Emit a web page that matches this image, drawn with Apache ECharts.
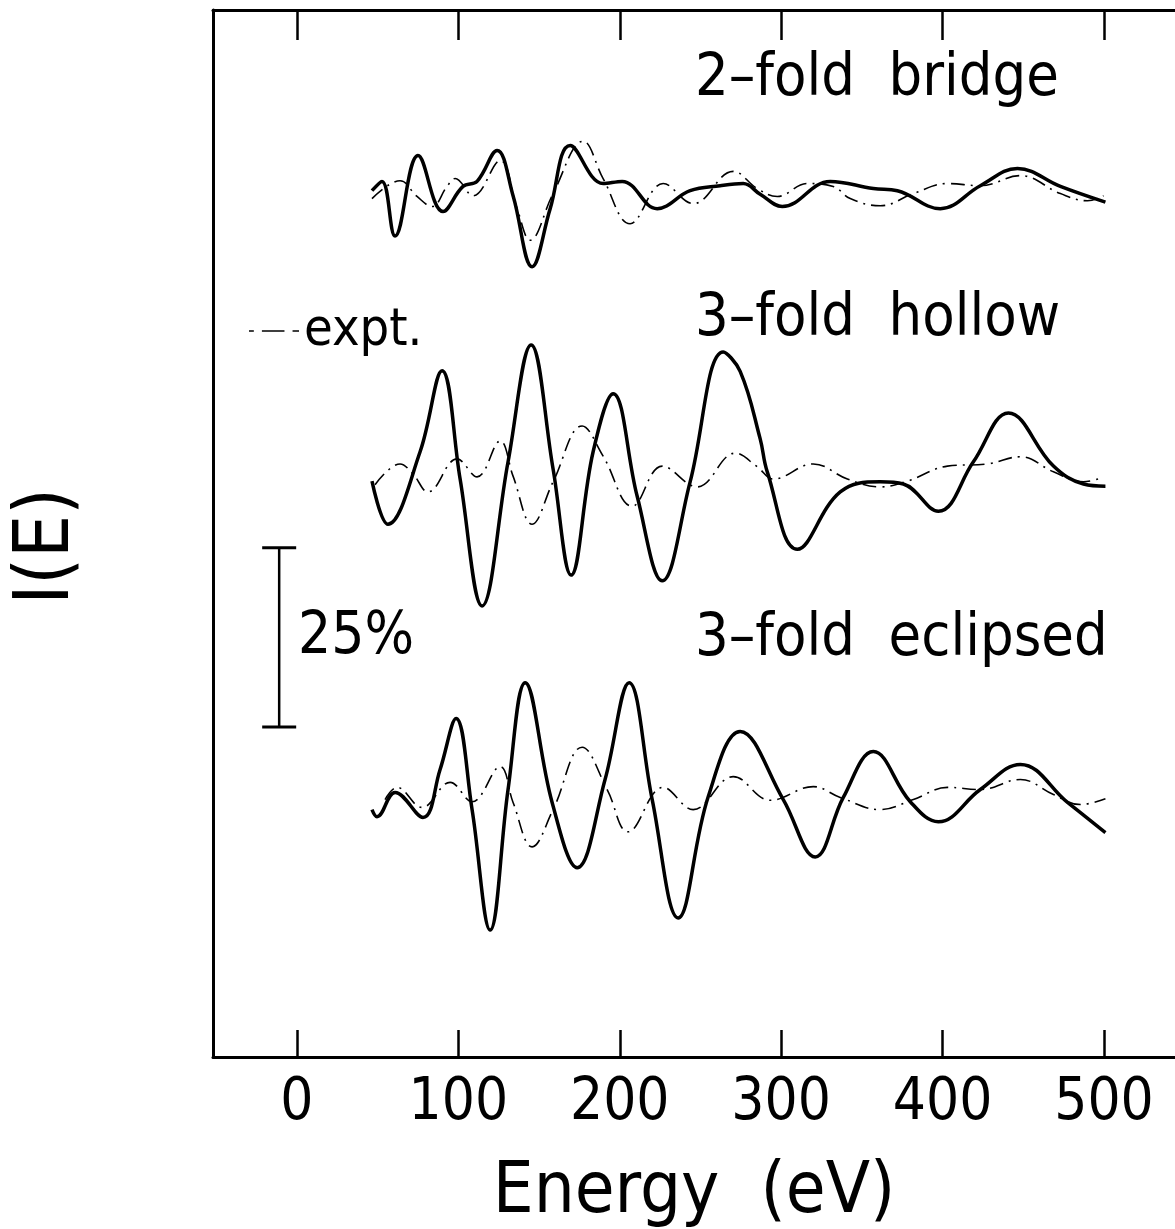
<!DOCTYPE html>
<html>
<head>
<meta charset="utf-8">
<script src="https://cdn.jsdelivr.net/npm/echarts@6/dist/echarts.min.js"></script>
<style>
  html, body { margin: 0; padding: 0; background: #fff; }
  #chart { width: 1175px; height: 1229px; }
</style>
</head>
<body>
<div id="chart"></div>
<script>
// energy (eV), intensity (%) with each pair of curves offset vertically
var bridgeTheory = [[46.5,120.8],[52.7,122.1],[60.8,114.5],[75.0,125.7],[90.5,117.9],[102.9,121.4],[111.6,122.1],[124.0,126.4],[133.9,120.1],[145.7,110.2],[156.9,118.3],[169.3,127.1],[189.7,121.8],[201.5,122.1],[223.2,118.3],[243.6,120.8],[262.2,121.5],[276.5,121.8],[287.0,120.3],[300.7,118.6],[330.4,122.1],[357.1,121.1],[372.0,120.8],[398.6,118.3],[423.4,121.5],[446.4,123.9],[473.0,121.4],[500.9,119.2]];
var bridgeExpt = [[46.5,119.7],[63.9,122.2],[74.4,120.0],[83.7,118.6],[93.0,121.4],[98.0,122.5],[109.1,120.1],[125.9,125.0],[136.4,118.3],[144.5,113.9],[158.7,120.4],[177.3,127.7],[189.7,122.5],[206.4,116.2],[226.9,121.8],[245.5,119.0],[270.3,123.5],[285.2,121.1],[297.6,120.0],[316.2,121.8],[332.3,121.4],[342.8,119.7],[361.4,118.7],[381.9,120.4],[403.0,121.8],[423.4,121.5],[448.2,122.9],[473.0,120.4],[489.8,119.4],[499.7,120.1]];
var hollowTheory = [[46.5,80.3],[56.4,74.3],[76.3,84.4],[89.9,95.7],[101.1,80.6],[114.7,62.9],[130.8,83.0],[145.1,99.3],[158.7,82.0],[169.9,67.2],[183.5,84.4],[195.9,92.5],[210.8,78.2],[226.3,66.4],[243.6,80.2],[264.1,98.3],[274.6,95.6],[287.0,86.2],[291.4,81.6],[310.0,70.8],[336.6,78.8],[361.4,80.2],[375.7,79.9],[397.4,76.1],[419.1,83.0],[440.8,89.8],[468.7,82.4],[487.3,79.9],[500.9,79.6]];
var hollowExpt = [[48.4,79.8],[63.9,82.7],[71.9,81.3],[81.2,78.8],[99.2,83.4],[111.6,80.9],[125.9,85.9],[133.9,81.0],[145.7,74.3],[158.7,80.2],[176.7,88.0],[189.7,83.8],[207.7,76.8],[226.3,82.4],[248.0,79.5],[271.5,84.2],[285.2,82.3],[295.1,80.6],[319.9,82.7],[341.0,80.6],[361.4,79.5],[378.2,80.3],[403.0,82.4],[427.8,82.7],[448.2,83.7],[468.7,81.6],[487.3,80.2],[497.8,80.7]];
var eclipsedTheory = [[46.5,34.5],[49.6,33.5],[60.8,36.9],[78.1,33.4],[88.7,40.1],[98.6,47.2],[108.5,34.5],[119.7,17.7],[130.8,37.3],[141.4,52.2],[158.1,35.5],[173.6,26.4],[190.9,38.7],[205.8,52.2],[220.1,35.9],[236.2,19.4],[254.8,36.3],[274.6,45.4],[301.3,35.9],[321.1,27.9],[338.5,36.2],[357.1,42.6],[380.0,35.6],[397.4,32.8],[423.4,37.3],[448.2,40.8],[477.4,35.5],[500.9,31.3]];
var eclipsedExpt = [[54.6,35.9],[62.0,37.6],[77.5,34.8],[94.9,38.3],[108.5,35.6],[125.9,40.5],[133.9,35.5],[145.7,29.3],[158.7,34.5],[176.7,43.2],[192.2,37.3],[205.2,31.4],[226.9,37.6],[245.5,34.5],[270.3,39.1],[293.2,35.8],[319.9,37.7],[336.6,36.2],[361.4,34.5],[381.9,35.9],[403.0,37.6],[423.4,37.3],[448.2,38.7],[468.7,36.6],[485.4,35.2],[500.9,36.0]];

var tickValues = [0, 100, 200, 300, 400, 500];
var curveLabels = ['2\u2013fold  bridge', '3\u2013fold  hollow', '3\u2013fold  eclipsed'];
var scaleBarX = -11;
var scaleBarBase = 46;
var scaleBarSize = 25;

var FONT = '"Liberation Sans Narrow", "DejaVu Sans Condensed", "DejaVu Sans", sans-serif';
// dot - dash - dot, like the plotted expt. curves
var DASHDOT_ICON = 'path://M0,0h3v1h-3zM8,0h14v1h-14zM27,0h4v1h-4z';

var chart = echarts.init(document.getElementById('chart'));

function theory(name, data) {
    return {
        name: name,
        type: 'line',
        data: data,
        smooth: 0.4,
        symbol: 'none',
        itemStyle: { color: '#000' },
        lineStyle: { color: '#000', width: 3.5 }
    };
}

function expt(data) {
    return {
        name: 'expt.',
        type: 'line',
        data: data,
        smooth: 0.4,
        symbol: 'none',
        itemStyle: { color: '#000' },
        lineStyle: { color: '#000', width: 1.6, type: [14, 6, 2, 6] }
    };
}

var option = {
    animation: false,
    backgroundColor: '#fff',
    grid: { left: 213, right: 0, top: 10, bottom: 172, outerBoundsMode: 'none' },
    legend: {
        data: [{ name: 'expt.', icon: DASHDOT_ICON }],
        left: 244,
        top: 300,
        itemWidth: 50,
        itemHeight: 2,
        itemGap: 4,
        itemStyle: { color: '#000' },
        textStyle: { fontFamily: FONT, fontSize: 52, color: '#000' }
    },
    xAxis: [
        {
            type: 'value',
            position: 'bottom',
            min: -52,
            max: 544,
            name: 'Energy  (eV)',
            nameLocation: 'middle',
            nameGap: 100,
            nameTextStyle: { fontFamily: FONT, fontSize: 72, color: '#000' },
            axisLine: { show: true, onZero: false, lineStyle: { color: '#000', width: 3 } },
            axisTick: { inside: true, length: 27, customValues: tickValues, lineStyle: { color: '#000', width: 2.5 } },
            axisLabel: { customValues: tickValues, margin: 18, fontFamily: FONT, fontSize: 58, color: '#000' },
            splitLine: { show: false }
        },
        {
            type: 'value',
            position: 'top',
            min: -52,
            max: 544,
            axisLine: { show: true, onZero: false, lineStyle: { color: '#000', width: 3 } },
            axisTick: { inside: true, length: 30, customValues: tickValues, lineStyle: { color: '#000', width: 2.5 } },
            axisLabel: { show: false },
            splitLine: { show: false }
        }
    ],
    yAxis: {
        type: 'value',
        min: 0,
        max: 146,
        name: 'I(E)',
        nameLocation: 'middle',
        nameRotate: 90,
        nameGap: 127,
        nameTextStyle: { fontFamily: FONT, fontSize: 76, color: '#000', padding: [0, 26, 0, 0] },
        axisLine: { show: true, onZero: false, lineStyle: { color: '#000', width: 3 } },
        axisTick: { show: false },
        axisLabel: { show: false },
        splitLine: { show: false }
    },
    series: [
        theory('2-fold bridge', bridgeTheory),
        expt(bridgeExpt),
        theory('3-fold hollow', hollowTheory),
        expt(hollowExpt),
        theory('3-fold eclipsed', eclipsedTheory),
        expt(eclipsedExpt),
        {
            name: '25%',
            type: 'line',
            data: [[scaleBarX, scaleBarBase], [scaleBarX, scaleBarBase + scaleBarSize]],
            symbol: 'rect',
            symbolSize: [34, 3],
            itemStyle: { color: '#000' },
            lineStyle: { color: '#000', width: 2.5 }
        }
    ],
    graphic: [
        { type: 'text', style: { x: 695, y: 80, text: curveLabels[0], font: '59px ' + FONT, fill: '#000', textVerticalAlign: 'middle' } },
        { type: 'text', style: { x: 695, y: 320, text: curveLabels[1], font: '59px ' + FONT, fill: '#000', textVerticalAlign: 'middle' } },
        { type: 'text', style: { x: 695, y: 640, text: curveLabels[2], font: '59px ' + FONT, fill: '#000', textVerticalAlign: 'middle' } },
        { type: 'text', style: { x: 298, y: 638, text: '25%', font: '58px ' + FONT, fill: '#000', textVerticalAlign: 'middle' } }
    ]
};

chart.setOption(option);
</script>
</body>
</html>
